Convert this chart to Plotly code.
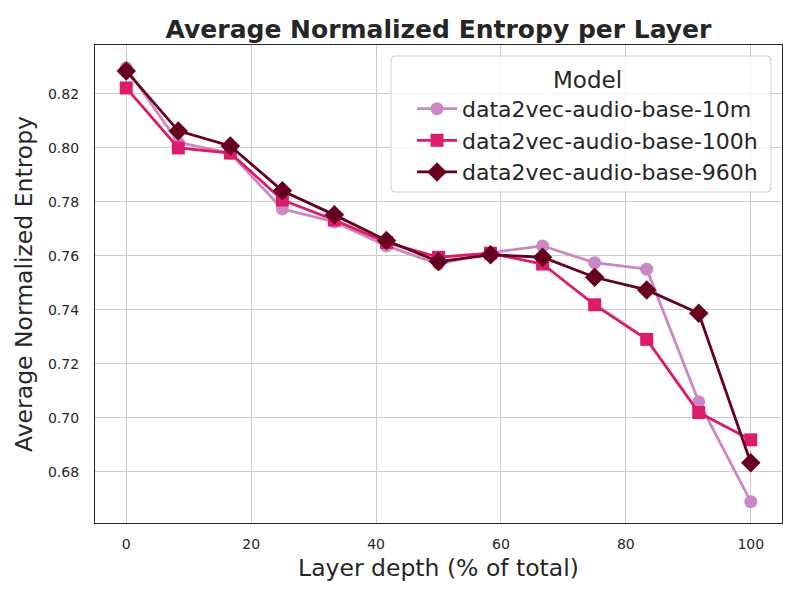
import plotly.graph_objects as go

layers = [0, 8.333, 16.667, 25, 33.333, 41.667, 50, 58.333, 66.667, 75, 83.333, 91.667, 100]
series_names = ["data2vec-audio-base-10m", "data2vec-audio-base-100h", "data2vec-audio-base-960h"]
vals_10m = [0.8296, 0.8020, 0.7980, 0.7774, 0.7726, 0.7637, 0.7570, 0.7612, 0.7637, 0.7575, 0.7551, 0.7060, 0.6690]
vals_100h = [0.8222, 0.8000, 0.7981, 0.7807, 0.7733, 0.7650, 0.7595, 0.7610, 0.7570, 0.7419, 0.7291, 0.7020, 0.6919]
vals_960h = [0.8285, 0.8063, 0.8007, 0.7841, 0.7752, 0.7657, 0.7579, 0.7604, 0.7595, 0.7521, 0.7474, 0.7388, 0.6834]

colors = ["#cc88c2", "#dc1c6b", "#67001f"]
symbols = ["circle", "square", "diamond"]
sizes = [13, 13, 15]

fig = go.Figure()
for name, vals, c, s, sz in zip(series_names, [vals_10m, vals_100h, vals_960h], colors, symbols, sizes):
    fig.add_trace(go.Scatter(
        x=layers, y=vals, mode="lines+markers", name=name,
        line=dict(color=c, width=2.8),
        marker=dict(color=c, symbol=s, size=sz, line=dict(width=0)),
    ))

# legend frame (rounded box) in paper coordinates
L, R, T, B = 95, 782, 45, 523
W, H = R - L, B - T
def px_x(p): return (p - L) / W
def px_y(p): return (B - p) / H
x0, x1, y0, y1 = px_x(391), px_x(771), px_y(192), px_y(56)
rx, ry = 4 / W, 4 / H
path = (f"M {x0+rx},{y0} L {x1-rx},{y0} Q {x1},{y0} {x1},{y0+ry} "
        f"L {x1},{y1-ry} Q {x1},{y1} {x1-rx},{y1} L {x0+rx},{y1} Q {x0},{y1} {x0},{y1-ry} "
        f"L {x0},{y0+ry} Q {x0},{y0} {x0+rx},{y0} Z")
fig.add_shape(type="path", path=path, xref="paper", yref="paper",
              fillcolor="rgba(255,255,255,0.8)", line=dict(color="#d0d0d0", width=1), layer="above")

font_family = "DejaVu Sans"
fig.update_layout(
    width=800, height=600,
    margin=dict(l=L, r=800 - R, t=T, b=600 - B),
    paper_bgcolor="white", plot_bgcolor="white",
    font=dict(family=font_family, color="#262626"),
    title=dict(text="<b>Average Normalized Entropy per Layer</b>", x=0.5, xref="paper", xanchor="center",
               y=1 - 29/600, yanchor="middle", font=dict(size=25, color="#262626")),
    xaxis=dict(range=[-5, 105], tickvals=[0, 20, 40, 60, 80, 100],
               showgrid=True, gridcolor="#cccccc", gridwidth=1, zeroline=False,
               showline=True, linecolor="#262626", linewidth=1.3, mirror=True,
               ticks="", tickfont=dict(size=14), ticklabelstandoff=8,
               title=dict(text="Layer depth (% of total)", font=dict(size=23.5), standoff=8)),
    yaxis=dict(range=[0.6611, 0.8381], tickvals=[0.68, 0.70, 0.72, 0.74, 0.76, 0.78, 0.80, 0.82],
               tickformat=".2f",
               showgrid=True, gridcolor="#cccccc", gridwidth=1, zeroline=False,
               showline=True, linecolor="#262626", linewidth=1.3, mirror=True,
               ticks="", tickfont=dict(size=14), ticklabelstandoff=12,
               title=dict(text="Average Normalized Entropy", font=dict(size=23.5), standoff=8)),
    legend=dict(title=dict(text="Model", font=dict(size=23), side="top center"),
                x=px_x(412), y=px_y(58), xanchor="left", yanchor="top",
                bgcolor="rgba(0,0,0,0)", borderwidth=0,
                font=dict(size=22), itemwidth=40),
    showlegend=True,
)
fig.write_html("out.html")
